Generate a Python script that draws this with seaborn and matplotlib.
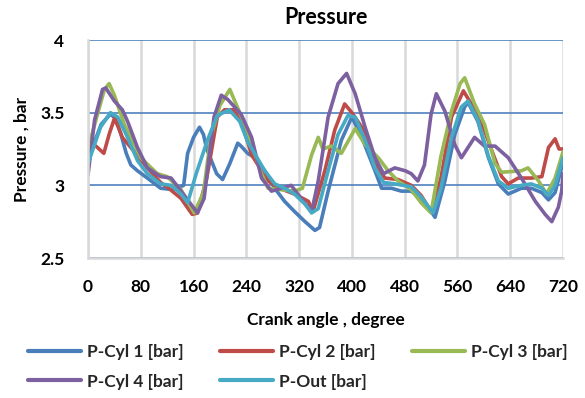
import numpy as np
import pandas as pd
import seaborn as sns
import matplotlib.pyplot as plt
from matplotlib.lines import Line2D

sns.set_theme(style="white")
plt.rcParams['font.family'] = ['Lato', 'DejaVu Sans']

# ---- data ----
cyl1_x = [0, 10, 20, 34, 42, 50, 58, 65, 75, 90, 110, 130, 145, 151, 160, 169, 175, 180, 195, 204, 215, 227, 232, 242, 253, 268, 283, 298, 313, 329, 344, 351, 364, 384, 400, 415, 435, 445, 460, 475, 490, 510, 526, 541, 556, 571, 576, 591, 607, 622, 637, 657, 672, 688, 698, 708, 720]
cyl1_y = [3.20, 3.30, 3.42, 3.49, 3.46, 3.35, 3.22, 3.14, 3.10, 3.05, 2.98, 2.97, 3.00, 3.22, 3.33, 3.40, 3.35, 3.25, 3.08, 3.04, 3.15, 3.29, 3.27, 3.22, 3.19, 3.10, 2.98, 2.89, 2.82, 2.75, 2.69, 2.71, 2.96, 3.31, 3.47, 3.33, 3.10, 2.98, 2.98, 2.96, 2.96, 2.89, 2.78, 3.03, 3.35, 3.54, 3.57, 3.44, 3.19, 3.01, 2.94, 2.98, 2.98, 2.95, 2.90, 2.95, 3.16]

cyl2_x = [0, 12, 24, 32, 40, 46, 52, 65, 90, 110, 125, 141, 158, 166, 180, 196, 207, 220, 232, 248, 273, 290, 313, 334, 341, 359, 374, 389, 400, 415, 435, 450, 470, 490, 505, 520, 535, 551, 569, 581, 596, 612, 627, 637, 652, 672, 688, 698, 708, 714, 720]
cyl2_y = [3.27, 3.27, 3.22, 3.35, 3.46, 3.40, 3.33, 3.26, 3.12, 3.02, 2.97, 2.91, 2.80, 2.81, 3.05, 3.47, 3.52, 3.52, 3.45, 3.21, 3.03, 2.98, 2.94, 2.89, 2.82, 3.10, 3.38, 3.56, 3.50, 3.40, 3.15, 3.05, 3.04, 3.00, 2.93, 2.82, 3.05, 3.47, 3.65, 3.56, 3.44, 3.24, 3.06, 3.01, 3.05, 3.05, 3.06, 3.26, 3.32, 3.25, 3.25]

cyl3_x = [0, 15, 25, 32, 40, 55, 80, 105, 120, 141, 161, 175, 186, 200, 215, 230, 242, 263, 273, 293, 313, 325, 339, 349, 356, 369, 384, 405, 420, 440, 455, 470, 490, 505, 520, 535, 551, 564, 571, 586, 601, 617, 627, 657, 667, 683, 695, 708, 720]
cyl3_y = [3.25, 3.50, 3.66, 3.70, 3.62, 3.42, 3.19, 3.08, 3.06, 2.97, 2.81, 2.95, 3.33, 3.55, 3.66, 3.50, 3.37, 3.08, 2.98, 2.97, 2.96, 2.98, 3.21, 3.33, 3.25, 3.27, 3.22, 3.39, 3.28, 3.19, 3.10, 3.03, 2.97, 2.88, 2.81, 3.20, 3.51, 3.70, 3.74, 3.56, 3.42, 3.15, 3.09, 3.10, 3.12, 3.03, 2.94, 3.05, 3.23]

cyl4_x = [0, 10, 22, 27, 40, 52, 60, 75, 90, 110, 126, 141, 151, 166, 176, 191, 202, 212, 232, 248, 263, 278, 293, 308, 323, 339, 349, 364, 379, 392, 405, 420, 435, 448, 465, 481, 490, 500, 510, 520, 528, 541, 556, 566, 576, 586, 601, 617, 637, 657, 678, 693, 703, 713, 718, 720]
cyl4_y = [3.07, 3.45, 3.66, 3.67, 3.58, 3.52, 3.44, 3.26, 3.12, 3.06, 3.05, 2.96, 2.90, 2.81, 2.91, 3.47, 3.62, 3.59, 3.49, 3.33, 3.05, 2.96, 2.98, 3.00, 2.91, 2.82, 3.03, 3.47, 3.70, 3.77, 3.63, 3.40, 3.19, 3.08, 3.12, 3.10, 3.08, 3.03, 3.14, 3.49, 3.63, 3.51, 3.28, 3.19, 3.26, 3.33, 3.27, 3.27, 3.19, 3.05, 2.89, 2.80, 2.75, 2.85, 2.96, 3.08]

out_x = [0, 19, 34, 45, 60, 75, 90, 110, 126, 141, 151, 164, 181, 196, 214, 230, 242, 268, 283, 298, 313, 329, 339, 349, 364, 379, 394, 405, 420, 435, 448, 465, 490, 505, 523, 535, 551, 566, 576, 591, 607, 622, 637, 657, 672, 688, 698, 708, 720]
out_y = [3.15, 3.40, 3.50, 3.47, 3.33, 3.17, 3.08, 3.01, 3.00, 2.94, 2.88, 3.08, 3.31, 3.48, 3.52, 3.44, 3.30, 3.10, 3.01, 2.98, 2.94, 2.87, 2.81, 2.84, 3.10, 3.35, 3.48, 3.47, 3.31, 3.12, 3.02, 3.01, 2.99, 2.92, 2.81, 2.98, 3.33, 3.54, 3.58, 3.45, 3.20, 3.03, 2.98, 3.00, 3.01, 2.98, 2.93, 3.00, 3.19]

series_names = ["P-Cyl 1 [bar]", "P-Cyl 2 [bar]", "P-Cyl 3 [bar]", "P-Cyl 4 [bar]", "P-Out [bar]"]
x_ticks = [0, 80, 160, 240, 320, 400, 480, 560, 640, 720]
y_ticks = [2.5, 3, 3.5, 4]
y_tick_labels = ["2.5", "3", "3.5", "4"]

colors = ["#4A7EBB", "#BE4B48", "#98B954", "#7D60A0", "#46AAC5"]

frames = []
for name, xs, ys in zip(series_names,
                        [cyl1_x, cyl2_x, cyl3_x, cyl4_x, out_x],
                        [cyl1_y, cyl2_y, cyl3_y, cyl4_y, out_y]):
    frames.append(pd.DataFrame({"angle": xs, "pressure": ys, "series": name}))
df = pd.concat(frames, ignore_index=True)

W, H = 585, 398
fig = plt.figure(figsize=(W / 100, H / 100), dpi=100)
ax = fig.add_axes([88 / W, 1 - 258 / H, 475 / W, 218 / H])

sns.lineplot(data=df, x="angle", y="pressure", hue="series", hue_order=series_names,
             palette=dict(zip(series_names, colors)), estimator=None, sort=False,
             linewidth=2.6, legend=False, ax=ax)
for ln in ax.lines:
    ln.set_solid_joinstyle("round")
    ln.set_solid_capstyle("round")

ax.set_xlim(0, 720)
ax.set_ylim(2.5, 4)
ax.set_xticks(x_ticks)
ax.set_xticklabels([str(t) for t in x_ticks])
ax.set_yticks(y_ticks)
ax.set_yticklabels(y_tick_labels)

ax.set_axisbelow(True)
ax.xaxis.grid(True, color="#D9D9D9", linewidth=1.8)
ax.yaxis.grid(True, color="#4F81BD", linewidth=1.2)
for side in ["top", "right"]:
    ax.spines[side].set_visible(False)
for side in ["left", "bottom"]:
    ax.spines[side].set_color("#D9D9D9")
    ax.spines[side].set_linewidth(1.8)

ax.tick_params(axis="both", length=0, labelsize=12.5)
ax.tick_params(axis="x", pad=15)
ax.tick_params(axis="y", pad=17)
for lab in ax.get_xticklabels() + ax.get_yticklabels():
    lab.set_fontweight("bold")
    lab.set_color("black")
ax.set_xlabel("")
ax.set_ylabel("")

fig.text(325.5 / W, 1 - 18 / H, "Pressure", ha="center", va="center",
         fontsize=15.5, fontweight="bold", color="black")
fig.text(325.5 / W, 1 - 320 / H, "Crank angle , degree", ha="center", va="center",
         fontsize=12.5, fontweight="bold", color="black")
fig.text(22 / W, 1 - 149 / H, "Pressure , bar", ha="center", va="center",
         rotation=90, fontsize=12.5, fontweight="bold", color="black")

order = [0, 3, 1, 4, 2]
handles = [Line2D([], [], color=colors[i], linewidth=3.0) for i in order]
labels = [series_names[i] for i in order]
fig.legend(handles, labels, ncol=3, loc="center", bbox_to_anchor=(298 / W, 1 - 367 / H),
           frameon=False, handlelength=3.05, handletextpad=0.35, columnspacing=2.1,
           labelspacing=0.75, prop={"weight": "bold", "size": 12.5})

fig.savefig("out.png", dpi=100)
